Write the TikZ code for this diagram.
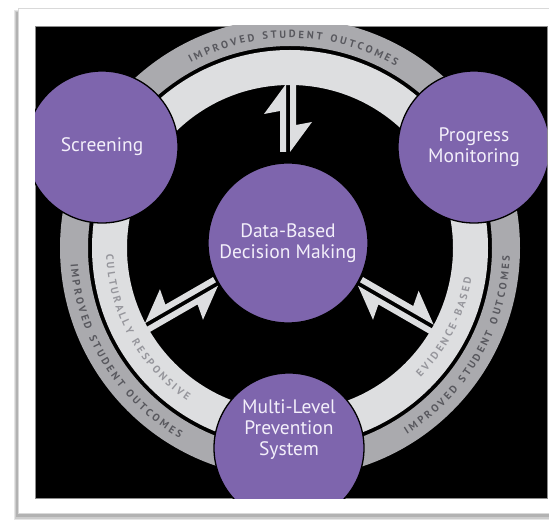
\documentclass[tikz,border=0pt]{standalone}
\usepackage{fontspec}
\newfontfamily\circfont{PT Sans}
\newfontfamily\ringfont{PT Sans}
\usetikzlibrary{calc, decorations.text}

\definecolor{discpurple}{RGB}{126,101,173}
\definecolor{disctext}{RGB}{243,239,250}
\definecolor{bandouter}{RGB}{170,170,174}
\definecolor{bandlight}{RGB}{221,222,224}
\definecolor{ringdark}{RGB}{88,88,94}
\definecolor{ringpale}{RGB}{150,150,156}
\newcommand{\ringstyle}{\ringfont\bfseries\fontsize{10.5pt}{11pt}\selectfont}

\begin{document}
\begin{tikzpicture}[x=1pt, y=1pt,
    disc/.style={circle, fill=discpurple, draw=black, line width=1.3pt, minimum size=#1, inner sep=0pt},
    disc/.default=152pt,
    disclabel/.style={text=disctext, align=center, font=\circfont\fontsize{19.5pt}{21pt}\selectfont},
    ringtext/.style={decorate, decoration={text along path, text align=center, text color=#1}}]
    \useasboundingbox (0,0) rectangle (549,520);
    % page with shadow
    \fill[white] (0,0) rectangle (549,520);
    \fill[black!10] (14,0) rectangle (549,510);
    \fill[black!20] (15,1) rectangle (549,509);
    \fill[black!30] (16,3) rectangle (549,508);
    \fill[white, draw=black!15] (18,7) rectangle (551,512);
    \fill[black, draw=black!45, line width=0.6pt] (35,22) rectangle (547,494);

    \coordinate (hubring) at (290,272);
    \coordinate (hub) at (288,277);

    \begin{scope}
        \clip (35,22) rectangle (547,494);
        % the two bands of the ring
        \fill[bandouter, even odd rule] (hubring) circle (230) (hubring) circle (202);
        \fill[bandlight, even odd rule] (hubring) circle (198) (hubring) circle (163);

        % double half-arrows between the hub and the ring: angle/start/end/mirror
        \foreach \ang/\from/\to/\flip in {90/91/160/1, 330/82/168/1, 210/82/165/-1} {
            \begin{scope}[shift={(hub)}, rotate=\ang, yscale=\flip]
                \fill[bandlight] (\from,2) -- (\to-1,2) -- (\to-31,24) -- (\to-28,8) -- (\from,8) -- cycle;
                \fill[bandlight] (\to+3,-2) -- (\from,-2) -- (\from+30,-24) -- (\from+27,-8) -- (\to+3,-8) -- cycle;
            \end{scope}
        }

        % lettering on the bands (spaced capitals)
        \path[ringtext=ringdark, decoration={text={|\ringstyle|I M P R O V E D ~ S T U D E N T ~ O U T C O M E S}}]
            ($(hubring)+(149:210)$) arc[start angle=149, end angle=29, radius=210];
        \path[ringtext=ringdark, decoration={text={|\ringstyle|I M P R O V E D ~ S T U D E N T ~ O U T C O M E S}}]
            ($(hubring)+(152:220)$) arc[start angle=152, end angle=272, radius=220];
        \path[ringtext=ringdark, decoration={text={|\ringstyle|I M P R O V E D ~ S T U D E N T ~ O U T C O M E S}}]
            ($(hubring)+(270:220)$) arc[start angle=270, end angle=390, radius=220];
        \path[ringtext=ringpale, decoration={text={|\ringstyle|C U L T U R A L L Y ~ R E S P O N S I V E}}]
            ($(hubring)+(159:184)$) arc[start angle=159, end angle=259, radius=184];
        \path[ringtext=ringpale, decoration={text={|\ringstyle|E V I D E N C E - B A S E D}}]
            ($(hubring)+(283:184)$) arc[start angle=283, end angle=383, radius=184];

        % the four discs
        \node[disc, disclabel] (screening) at (102,373) {Screening};
        \node[disc, disclabel] (progress) at (474,373) {Progress\\Monitoring};
        \node[disc=150pt] (mlps) at (289,72) {};
        \node[disclabel] (mlps label) at (289,90) {Multi-Level\\Prevention\\System};
        \node[disc=160pt, disclabel] (dbdm) at (hub) {Data-Based\\Decision Making};
    \end{scope}
\end{tikzpicture}
\end{document}
